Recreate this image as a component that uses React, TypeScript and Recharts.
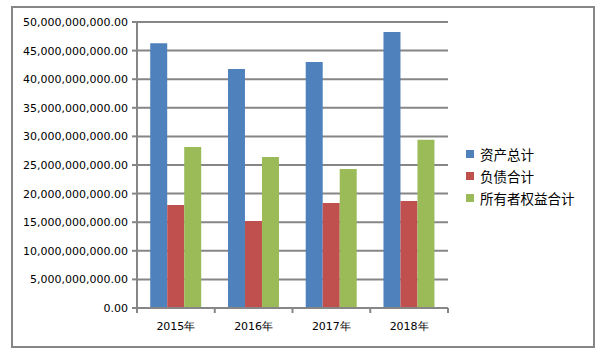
import React from 'react';
import { BarChart, Bar, XAxis, YAxis, CartesianGrid } from 'recharts';

const categories = ['2015年', '2016年', '2017年', '2018年'];
const assets = [46.3e9, 41.8e9, 43.0e9, 48.25e9];
const liabilities = [18.0e9, 15.2e9, 18.35e9, 18.7e9];
const equity = [28.15e9, 26.4e9, 24.3e9, 29.4e9];
const yTicks = [0, 5e9, 10e9, 15e9, 20e9, 25e9, 30e9, 35e9, 40e9, 45e9, 50e9];

const seriesNames = ['资产总计', '负债合计', '所有者权益合计'];
const colors = ['#4F81BD', '#C0504D', '#9BBB59'];

const data = categories.map((c, i) => ({
  name: c,
  a: assets[i],
  l: liabilities[i],
  e: equity[i],
}));

const W = 602;
const H = 351;
const M = { top: 22, right: 154, bottom: 13, left: 0 };
const Y_W = 137;
const GRID = '#868686';
const FONT = '"DejaVu Sans", sans-serif';

const fmt = (v: number) =>
  v.toLocaleString('en-US', { minimumFractionDigits: 2, maximumFractionDigits: 2 });

const plotW = W - M.left - M.right - Y_W;
const band = plotW / categories.length;

const XTick = (props: any) => {
  const { x, y, payload, index } = props;
  const left = x - band / 2;
  const right = x + band / 2;
  return (
    <g>
      <line x1={left} y1={y - 8} x2={left} y2={y - 3} stroke={GRID} strokeWidth={2} />
      {index === categories.length - 1 && (
        <line x1={right} y1={y - 8} x2={right} y2={y - 3} stroke={GRID} strokeWidth={2} />
      )}
      <text x={x} y={y + 14} textAnchor="middle" fontFamily={FONT} fontSize={11} fill="#000">
        {payload.value}
      </text>
    </g>
  );
};

const LegendBox = () => (
  <div
    style={{
      position: 'absolute',
      left: 466,
      top: 143,
      fontFamily: '"Noto Sans CJK SC", sans-serif',
      fontSize: 13.5,
      color: '#000',
    }}
  >
    {seriesNames.map((n, i) => (
      <div key={n} style={{ display: 'flex', alignItems: 'center', height: 22 }}>
        <span style={{ width: 8, height: 8, background: colors[i], display: 'inline-block', marginRight: 6 }} />
        <span style={{ lineHeight: '22px', whiteSpace: 'nowrap' }}>{n}</span>
      </div>
    ))}
  </div>
);

export default function App() {
  return (
    <div style={{ position: 'absolute', left: 0, top: 0, width: W, height: H, background: '#fff' }}>
      <div
        style={{
          position: 'absolute',
          left: 11,
          top: 6,
          width: 580,
          height: 338,
          border: `2px solid ${GRID}`,
        }}
      />
      <div style={{ position: 'absolute', left: 0, top: 0 }}>
        <BarChart width={W} height={H} data={data} margin={M} barCategoryGap="17%" barGap={0}>
          <CartesianGrid vertical={false} stroke={GRID} strokeWidth={2} />
          <XAxis
            dataKey="name"
            height={30}
            axisLine={{ stroke: GRID, strokeWidth: 2 }}
            tickLine={false}
            tick={<XTick />}
            interval={0}
          />
          <YAxis
            width={Y_W}
            domain={[0, 50e9]}
            ticks={yTicks}
            interval={0}
            tickFormatter={fmt}
            axisLine={{ stroke: GRID, strokeWidth: 2 }}
            tickLine={{ stroke: GRID, strokeWidth: 2 }}
            tickSize={5}
            tickMargin={4}
            tick={{ fontFamily: FONT, fontSize: 11, fill: '#000' }}
          />
          <Bar dataKey="a" name={seriesNames[0]} fill={colors[0]} isAnimationActive={false} />
          <Bar dataKey="l" name={seriesNames[1]} fill={colors[1]} isAnimationActive={false} />
          <Bar dataKey="e" name={seriesNames[2]} fill={colors[2]} isAnimationActive={false} />
        </BarChart>
      </div>
      <LegendBox />
    </div>
  );
}
